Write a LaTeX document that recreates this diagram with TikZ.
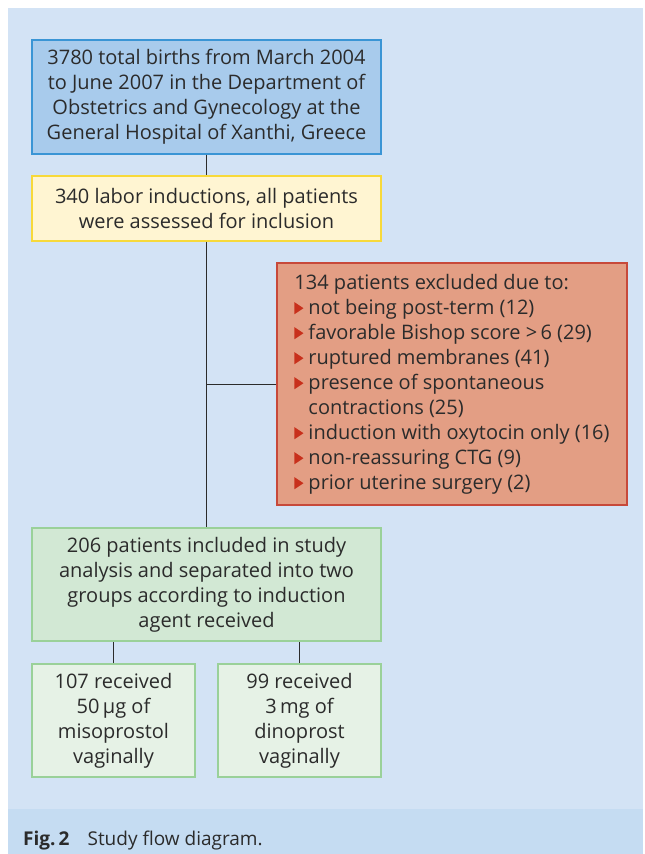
\documentclass[tikz,border=0pt]{standalone}
\usepackage{fontspec}
\setmainfont{Open Sans}
\usetikzlibrary{positioning}

\definecolor{panelbg}{HTML}{D3E3F5}
\definecolor{captionbg}{HTML}{C5DCF2}
\definecolor{bluefill}{HTML}{A8CBEC}
\definecolor{blueline}{HTML}{3A95D5}
\definecolor{yellowfill}{HTML}{FFF5D2}
\definecolor{yellowline}{HTML}{F7D93A}
\definecolor{redfill}{HTML}{E39E84}
\definecolor{redline}{HTML}{C7493A}
\definecolor{bulletred}{HTML}{C8301C}
\definecolor{greenfill}{HTML}{D2E8D4}
\definecolor{lightgreen}{HTML}{E6F2E6}
\definecolor{greenline}{HTML}{9AD199}
\definecolor{textgray}{HTML}{2B2B2B}

\newcommand{\tri}{\tikz[x=1pt, y=1pt, baseline=0pt]\fill[bulletred] (0,0) -- (0,12) -- (9,6) -- cycle;\hspace{5pt}}

\begin{document}
\begin{tikzpicture}[x=1pt, y=-1pt,
		box/.style = {draw, line width=1.2pt, align=center, inner sep=0pt, text=textgray,
			font=\fontsize{20}{25}\selectfont},
		wide/.style = {box, minimum width=349pt},
		small/.style = {box, minimum width=163pt, minimum height=113pt, fill=lightgreen, draw=greenline},
		link/.style = {draw=textgray, line width=0.9pt}]
		\useasboundingbox (0,0) rectangle (645,854);
		\fill[panelbg] (8,8) rectangle (643,854);
		\fill[captionbg] (8,809) rectangle (643,854);

		\node[wide, minimum height=114pt, fill=bluefill, draw=blueline] (births) at (206.5,97)
			{3780 total births from March 2004\\to June 2007 in the Department of\\Obstetrics and Gynecology at the\\General Hospital of Xanthi, Greece};
		\node[wide, minimum height=65pt, fill=yellowfill, draw=yellowline] (inductions) at (206.5,208.5)
			{340 labor inductions, all patients\\were assessed for inclusion};
		\node[box, minimum width=350pt, minimum height=242pt, fill=redfill, draw=redline, align=left] (excluded) at (452,384)
			{134 patients excluded due to:\\
			\tri not being post-term (12)\\
			\tri favorable Bishop score >\,6 (29)\\
			\tri ruptured membranes (41)\\
			\tri presence of spontaneous\\
			\hspace*{14pt}contractions (25)\\
			\tri induction with oxytocin only (16)\\
			\tri non-reassuring CTG (9)\\
			\tri prior uterine surgery (2)};
		\node[wide, minimum height=113pt, fill=greenfill, draw=greenline] (included) at (206.5,584.5)
			{206 patients included in study\\analysis and separated into two\\groups according to induction\\agent received};
		\node[small] (miso) at (113.5,720.5) {107 received\\50\,μg of\\misoprostol\\vaginally};
		\node[small] (dino) at (299.5,720.5) {99 received\\3\,mg of\\dinoprost\\vaginally};

		\coordinate (split) at (births.south |- excluded.west);
		\draw[link] (births) -- (inductions);
		\draw[link] (inductions) -- (included);
		\draw[link] (split) -- (excluded.west);
		\draw[link] (miso.north) -- (miso.north |- included.south);
		\draw[link] (dino.north) -- (dino.north |- included.south);

		\node[anchor=base west, inner sep=0pt, text=textgray, font=\fontsize{19}{22}\selectfont] (caption) at (23,845)
			{\textbf{Fig.\,2}\hspace{18pt}Study flow diagram.};
	\end{tikzpicture}
\end{document}
